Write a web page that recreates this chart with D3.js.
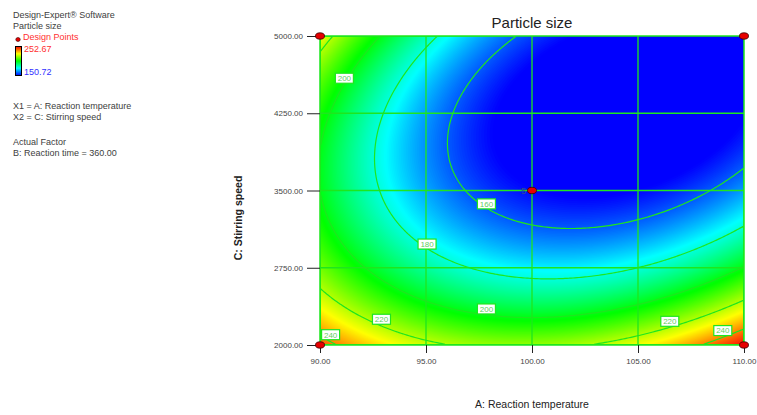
<html>

<head>
  <script src="https://d3js.org/d3.v7.min.js"></script>
  <style>
    body {
      margin: 0;
      background: #fff;
    }

    text {
      font-family: "Liberation Sans", Arial, sans-serif;
    }

    .axis .domain {
      display: none;
    }

    .axis line {
      stroke: #222;
    }

    .axis text {
      font-size: 8px;
      fill: #444;
    }
  </style>
</head>

<body>
  <svg id="chart" width="757" height="415"></svg>
  <script>
    // factor ranges (actual units), coded -1..+1
    const tempRange = [90, 110];
    const speedRange = [2000, 5000];
    const xTicks = [90, 95, 100, 105, 110];
    const yTicks = [2000, 2750, 3500, 4250, 5000];

    // quadratic model in coded units: b0 + A + C + A^2 + C^2 + AC
    const modelTerms = ["Intercept", "A", "C", "A2", "C2", "AC"];
    const modelCoefs = [151.6, -16.7, -29.8, 31.7, 35.3, -20.5];

    const contourLevels = [160, 180, 200, 220, 240];
    const colorRange = [150.72, 252.67];

    // design points: temperature, speed, replicates
    const designTemp = [90, 110, 90, 110, 100];
    const designSpeed = [2000, 2000, 5000, 5000, 3500];
    const designReps = [1, 1, 1, 1, 5];

    // contour label anchors (temperature, speed, level)
    const labelTemp = [91.15, 95.05, 97.85, 92.9, 90.5, 97.85, 106.5, 109.0];
    const labelSpeed = [4590, 2980, 3370, 2250, 2100, 2350, 2230, 2140];
    const labelLevel = [200, 180, 160, 220, 240, 200, 220, 240];

    const margin = { left: 320, top: 36 };
    const plotW = 424, plotH = 309;

    const svg = d3.select("svg#chart");

    const xScale = d3.scaleLinear().domain(tempRange).range([0, plotW]);
    const yScale = d3.scaleLinear().domain(speedRange).range([plotH, 0]);
    const colorScale = d3.scaleLinear()
      .domain(d3.range(5).map(i => colorRange[0] + i * (colorRange[1] - colorRange[0]) / 4))
      .range(["#0000ff", "#00ffff", "#00ff00", "#ffff00", "#ff0000"])
      .clamp(true);

    function predict(t, s) {
      const a = (t - 100) / 10;
      const c = (s - 3500) / 1500;
      const x = [1, a, c, a * a, c * c, a * c];
      return d3.sum(x, (v, i) => v * modelCoefs[i]);
    }

    // grid for the surface
    const nx = 212, ny = 155;
    const cw = plotW / nx, ch = plotH / ny;
    const values = new Array(nx * ny);
    for (let j = 0; j < ny; j++) {
      for (let i = 0; i < nx; i++) {
        values[j * nx + i] = predict(xScale.invert((i + 0.5) * cw), yScale.invert((j + 0.5) * ch));
      }
    }
    const gridPath = d3.geoPath(d3.geoTransform({
      point: function (x, y) { this.stream.point(x * cw, y * ch); }
    }));

    svg.append("defs").append("clipPath").attr("id", "plotClip")
      .append("rect").attr("width", plotW).attr("height", plotH);

    const plot = svg.append("g")
      .attr("transform", `translate(${margin.left},${margin.top})`);

    const surface = plot.append("g").attr("clip-path", "url(#plotClip)");

    const fillThresholds = d3.range(130, 262, 0.5);
    surface.selectAll("path.band")
      .data(d3.contours().size([nx, ny]).thresholds(fillThresholds)(values))
      .join("path")
      .attr("class", "band")
      .attr("d", gridPath)
      .attr("fill", d => colorScale(d.value));

    // gridlines
    plot.append("g").selectAll("line.vg")
      .data(xTicks.slice(1, -1))
      .join("line")
      .attr("x1", d => xScale(d)).attr("x2", d => xScale(d))
      .attr("y1", 0).attr("y2", plotH)
      .attr("stroke", "#1ee61e").attr("stroke-width", 1.3);
    plot.append("g").selectAll("line.hg")
      .data(yTicks.slice(1, -1))
      .join("line")
      .attr("y1", d => yScale(d)).attr("y2", d => yScale(d))
      .attr("x1", 0).attr("x2", plotW)
      .attr("stroke", "#1ee61e").attr("stroke-width", 1.3);

    // contour lines
    surface.selectAll("path.iso")
      .data(d3.contours().size([nx, ny]).thresholds(contourLevels)(values))
      .join("path")
      .attr("class", "iso")
      .attr("d", gridPath)
      .attr("fill", "none")
      .attr("stroke", "#1ee61e")
      .attr("stroke-width", 1.2);

    // border
    plot.append("rect")
      .attr("width", plotW).attr("height", plotH)
      .attr("fill", "none").attr("stroke", "#1ee61e").attr("stroke-width", 1.5);

    // contour labels
    const labels = plot.append("g").selectAll("g")
      .data(labelLevel.map((l, i) => ({ level: l, t: labelTemp[i], s: labelSpeed[i] })))
      .join("g")
      .attr("transform", d => `translate(${xScale(d.t)},${yScale(d.s)})`);
    labels.append("rect")
      .attr("x", -9).attr("y", -5).attr("width", 18).attr("height", 10)
      .attr("fill", "#fff").attr("stroke", "#1ee61e").attr("stroke-width", 1.2);
    labels.append("text")
      .attr("text-anchor", "middle").attr("dy", "0.35em")
      .style("font-size", "8px").attr("fill", "#5fcf5f")
      .text(d => d.level);

    // axes
    plot.append("g")
      .attr("class", "axis")
      .attr("transform", `translate(0,${plotH})`)
      .call(d3.axisBottom(xScale).tickValues(xTicks).tickSize(8).tickPadding(5).tickFormat(d3.format(".2f")));
    plot.append("g")
      .attr("class", "axis")
      .call(d3.axisLeft(yScale).tickValues(yTicks).tickSize(13).tickPadding(4).tickFormat(d3.format(".2f")));

    // design points
    const designPts = designTemp.map((t, i) => ({ t: t, s: designSpeed[i], n: designReps[i] }));
    plot.append("g").selectAll("ellipse")
      .data(designPts)
      .join("ellipse")
      .attr("cx", d => xScale(d.t)).attr("cy", d => yScale(d.s))
      .attr("rx", 4.5).attr("ry", 3.2)
      .attr("fill", "#e60000").attr("stroke", "#3a0000").attr("stroke-width", 0.8);
    plot.append("g").selectAll("text")
      .data(designPts.filter(d => d.n > 1))
      .join("text")
      .attr("x", d => xScale(d.t) - 6).attr("y", d => yScale(d.s) + 3)
      .attr("text-anchor", "end")
      .style("font-size", "9px").attr("fill", "#2f4f8f")
      .text(d => d.n);

    // titles
    svg.append("text")
      .attr("x", margin.left + plotW / 2).attr("y", 28)
      .attr("text-anchor", "middle")
      .style("font-size", "15px").attr("fill", "#222")
      .text("Particle size");
    svg.append("text")
      .attr("x", margin.left + plotW / 2).attr("y", 408)
      .attr("text-anchor", "middle")
      .style("font-size", "10.5px").attr("fill", "#222")
      .text("A: Reaction temperature");
    svg.append("text")
      .attr("transform", "translate(242,218) rotate(-90)")
      .attr("text-anchor", "middle")
      .style("font-size", "10.5px").style("font-weight", "bold").attr("fill", "#222")
      .text("C: Stirring speed");

    // left info block
    const info = svg.append("g").style("font-size", "9px");
    info.append("text").attr("x", 13).attr("y", 18).attr("fill", "#404040").text("Design-Expert® Software");
    info.append("text").attr("x", 13).attr("y", 29).attr("fill", "#404040").text("Particle size");
    info.append("ellipse").attr("cx", 18).attr("cy", 39.5).attr("rx", 2.2).attr("ry", 2)
      .attr("fill", "#e60000").attr("stroke", "#3a0000").attr("stroke-width", 0.6);
    info.append("text").attr("x", 23).attr("y", 40).attr("fill", "#ff3030").text("Design Points");

    const grad = svg.select("defs").append("linearGradient")
      .attr("id", "legendGrad").attr("x1", 0).attr("y1", 0).attr("x2", 0).attr("y2", 1);
    grad.selectAll("stop")
      .data(["#ff0000", "#ffff00", "#00ff00", "#00ffff", "#0000ff"])
      .join("stop")
      .attr("offset", (d, i) => i / 4)
      .attr("stop-color", d => d);
    info.append("rect").attr("x", 15.5).attr("y", 46.5).attr("width", 6).attr("height", 29)
      .attr("fill", "url(#legendGrad)").attr("stroke", "#000").attr("stroke-width", 1);
    info.append("text").attr("x", 24).attr("y", 52).attr("fill", "#ff3030").text(colorRange[1].toFixed(2));
    info.append("text").attr("x", 24).attr("y", 75).attr("fill", "#3030ff").text(colorRange[0].toFixed(2));

    info.append("text").attr("x", 13).attr("y", 109).attr("fill", "#404040").text("X1 = A: Reaction temperature");
    info.append("text").attr("x", 13).attr("y", 120).attr("fill", "#404040").text("X2 = C: Stirring speed");
    info.append("text").attr("x", 13).attr("y", 145).attr("fill", "#404040").text("Actual Factor");
    info.append("text").attr("x", 13).attr("y", 156).attr("fill", "#404040").text("B: Reaction time = 360.00");
  </script>
</body>

</html>
